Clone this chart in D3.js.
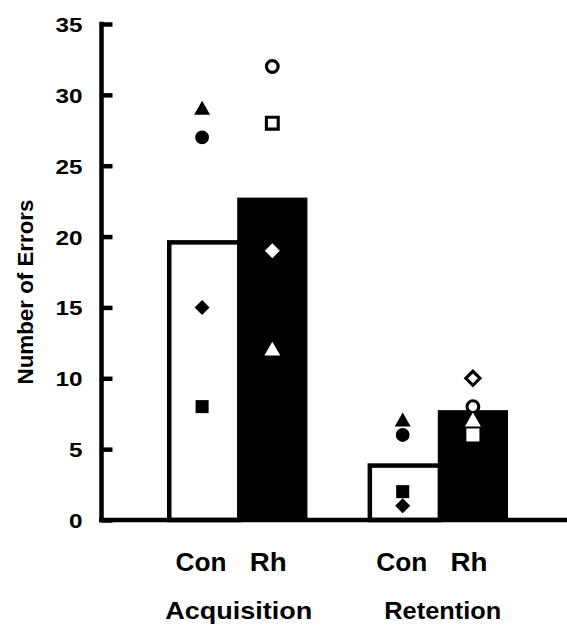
<!DOCTYPE html>
<html>
<head>
<meta charset="utf-8">
<script src="https://cdn.jsdelivr.net/npm/d3@7"></script>
<style>
  body { margin: 0; background: #fff; }
  text { font-family: "Liberation Sans", Arial, sans-serif; font-weight: bold; fill: #000; }
</style>
</head>
<body>
<div id="chart"></div>
<script>
// data
const groups = ['Acquisition', 'Retention'];
const conditions = ['Con', 'Rh'];
const yTicks = [0, 5, 10, 15, 20, 25, 30, 35];

// group means (bars)
const conMeans = [19.75, 4];
const rhMeans = [22.75, 7.75];

// individual animals, same shape = same animal
const conShapes = ['triangle', 'circle', 'diamond', 'square'];
const conAcquisition = [29, 27, 15, 8];
const conRetention = [7, 6, 1, 2];
const rhShapes = ['circle', 'square', 'diamond', 'triangle'];
const rhAcquisition = [32, 28, 19, 12];
const rhRetention = [8, 6, 10, 7];

const width = 567, height = 625;

const svg = d3.select('#chart')
    .append('svg')
    .attr('width', width)
    .attr('height', height);

const y = d3.scaleLinear().domain([0, 35]).range([520, 24]);
const x0 = d3.scaleBand().domain(groups).range([167, 508]).paddingInner(0.3);
const x1 = d3.scaleBand().domain(conditions).range([0, x0.bandwidth()]);

const sw = 4.5; // line weight of axes and bar outline

// bars
const barData = [];
groups.forEach((g, i) => {
    barData.push({ group: g, cond: 'Con', value: conMeans[i] });
    barData.push({ group: g, cond: 'Rh', value: rhMeans[i] });
});
const meanOf = (g, c) => barData.find(d => d.group === g && d.cond === c).value;

// white bars first, black bars drawn over their right edge
svg.selectAll('rect.con')
    .data(barData.filter(d => d.cond === 'Con'))
    .enter()
    .append('rect')
    .attr('class', 'con')
    .attr('x', d => x0(d.group) + x1('Con') + sw / 2)
    .attr('y', d => y(d.value) + sw / 2)
    .attr('width', x1.bandwidth())
    .attr('height', d => y(0) - y(d.value) - sw / 2)
    .attr('fill', '#fff')
    .attr('stroke', '#000')
    .attr('stroke-width', sw);

svg.selectAll('rect.rh')
    .data(barData.filter(d => d.cond === 'Rh'))
    .enter()
    .append('rect')
    .attr('class', 'rh')
    .attr('x', d => x0(d.group) + x1('Rh'))
    .attr('y', d => y(d.value))
    .attr('width', x1.bandwidth())
    .attr('height', d => y(0) - y(d.value))
    .attr('fill', '#000');

// y axis, ticks pointing inward
const yAxis = d3.axisLeft(y)
    .tickValues(yTicks)
    .tickSizeInner(-11)
    .tickSizeOuter(0)
    .tickPadding(20);

const ax = svg.append('g')
    .attr('transform', 'translate(101.5,0)')
    .call(yAxis);
ax.select('.domain').attr('stroke-width', sw).attr('d', `M0,${y(35) - sw / 2}V${y(0) + sw / 2}`);
ax.selectAll('.tick line').attr('stroke-width', sw);
ax.selectAll('.tick text')
    .attr('x', -19)
    .attr('dy', '0.36em')
    .attr('textLength', d => String(d).length * 13.5)
    .attr('lengthAdjust', 'spacingAndGlyphs')
    .style('font-size', '21px')
    .style('font-family', '"Liberation Sans", Arial, sans-serif')
    .style('font-weight', 'bold');

// baseline
svg.append('line')
    .attr('x1', 99)
    .attr('x2', width)
    .attr('y1', y(0))
    .attr('y2', y(0))
    .attr('stroke', '#000')
    .attr('stroke-width', sw);

// markers: Con solid black; Rh white, outlined where they stand above the black bar
const solidSymbols = {
    circle: d3.symbol(d3.symbolCircle, 150),
    square: d3.symbol(d3.symbolSquare, 170),
    diamond: d3.symbol(d3.symbolSquare, 112),
    triangle: d3.symbol(d3.symbolTriangle, 110)
};
const openSymbols = {
    circle: d3.symbol(d3.symbolCircle, 108),
    square: d3.symbol(d3.symbolSquare, 140),
    diamond: d3.symbol(d3.symbolSquare, 100),
    triangle: d3.symbol(d3.symbolTriangle, 90)
};

const points = [];
conShapes.forEach((s, i) => {
    points.push({ group: 'Acquisition', cond: 'Con', shape: s, value: conAcquisition[i] });
    points.push({ group: 'Retention', cond: 'Con', shape: s, value: conRetention[i] });
});
rhShapes.forEach((s, i) => {
    points.push({ group: 'Acquisition', cond: 'Rh', shape: s, value: rhAcquisition[i] });
    points.push({ group: 'Retention', cond: 'Rh', shape: s, value: rhRetention[i] });
});
points.forEach(d => {
    d.open = d.cond === 'Rh' && d.value >= meanOf(d.group, d.cond);
});

svg.selectAll('path.pt')
    .data(points)
    .enter()
    .append('path')
    .attr('class', 'pt')
    .attr('d', d => (d.open ? openSymbols : solidSymbols)[d.shape]())
    .attr('transform', d => {
        const cx = x0(d.group) + x1(d.cond) + x1.bandwidth() / 2;
        const cy = y(d.value) + (d.shape === 'triangle' ? 1 : 0);
        return `translate(${cx},${cy})` + (d.shape === 'diamond' ? ' rotate(45)' : '');
    })
    .attr('fill', d => d.cond === 'Con' ? '#000' : '#fff')
    .attr('stroke', d => d.open ? '#000' : 'none')
    .attr('stroke-width', 3.1);

// x labels
const condShift = { Con: -1, Rh: -4 };
const condLength = { Con: 51, Rh: 37 };
const groupShift = { Acquisition: 1.5, Retention: 5 };
const groupLength = { Acquisition: 147, Retention: 117 };

groups.forEach(g => {
    conditions.forEach(c => {
        svg.append('text')
            .attr('x', x0(g) + x1(c) + x1.bandwidth() / 2 + condShift[c])
            .attr('y', 571)
            .attr('text-anchor', 'middle')
            .attr('textLength', condLength[c])
            .attr('lengthAdjust', 'spacingAndGlyphs')
            .style('font-size', '25px')
            .text(c);
    });
    svg.append('text')
        .attr('x', x0(g) + x0.bandwidth() / 2 + groupShift[g])
        .attr('y', 619)
        .attr('text-anchor', 'middle')
        .attr('textLength', groupLength[g])
        .attr('lengthAdjust', 'spacingAndGlyphs')
        .style('font-size', '24px')
        .text(g);
});

// y label
svg.append('text')
    .attr('transform', 'translate(33,292) rotate(-90)')
    .attr('text-anchor', 'middle')
    .attr('textLength', 185)
    .attr('lengthAdjust', 'spacingAndGlyphs')
    .style('font-size', '22px')
    .text('Number of Errors');
</script>
</body>
</html>
